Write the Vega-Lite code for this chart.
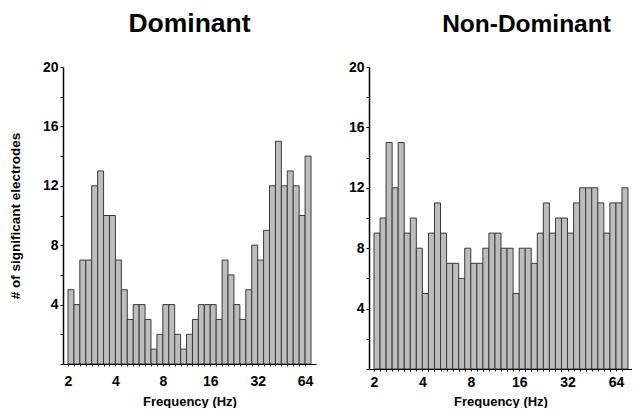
{
  "$schema": "https://vega.github.io/schema/vega-lite/v6.json",
  "padding": {"left": 8, "top": 10, "right": 0, "bottom": 0},
  "config": {
    "view": {"stroke": null},
    "font": "Liberation Sans",
    "concat": {"spacing": 32},
    "axis": {"labelFont": "Liberation Sans", "titleFont": "Liberation Sans", "labelFontWeight": "bold", "titleFontWeight": "bold", "labelColor": "#000", "titleColor": "#000", "domainColor": "#000", "tickColor": "#000", "grid": false}
  },
  "datasets": {
    "dom": [
      {"lo": 2.000, "hi": 2.181, "count": 5},
      {"lo": 2.181, "hi": 2.378, "count": 4},
      {"lo": 2.378, "hi": 2.594, "count": 7},
      {"lo": 2.594, "hi": 2.828, "count": 7},
      {"lo": 2.828, "hi": 3.084, "count": 12},
      {"lo": 3.084, "hi": 3.364, "count": 13},
      {"lo": 3.364, "hi": 3.668, "count": 10},
      {"lo": 3.668, "hi": 4.000, "count": 10},
      {"lo": 4.000, "hi": 4.362, "count": 7},
      {"lo": 4.362, "hi": 4.757, "count": 5},
      {"lo": 4.757, "hi": 5.187, "count": 3},
      {"lo": 5.187, "hi": 5.657, "count": 4},
      {"lo": 5.657, "hi": 6.169, "count": 4},
      {"lo": 6.169, "hi": 6.727, "count": 3},
      {"lo": 6.727, "hi": 7.336, "count": 1},
      {"lo": 7.336, "hi": 8.000, "count": 2},
      {"lo": 8.000, "hi": 8.724, "count": 4},
      {"lo": 8.724, "hi": 9.514, "count": 4},
      {"lo": 9.514, "hi": 10.375, "count": 2},
      {"lo": 10.375, "hi": 11.314, "count": 1},
      {"lo": 11.314, "hi": 12.338, "count": 2},
      {"lo": 12.338, "hi": 13.454, "count": 3},
      {"lo": 13.454, "hi": 14.672, "count": 4},
      {"lo": 14.672, "hi": 16.000, "count": 4},
      {"lo": 16.000, "hi": 17.448, "count": 4},
      {"lo": 17.448, "hi": 19.027, "count": 3},
      {"lo": 19.027, "hi": 20.749, "count": 7},
      {"lo": 20.749, "hi": 22.627, "count": 6},
      {"lo": 22.627, "hi": 24.675, "count": 4},
      {"lo": 24.675, "hi": 26.909, "count": 3},
      {"lo": 26.909, "hi": 29.344, "count": 5},
      {"lo": 29.344, "hi": 32.000, "count": 8},
      {"lo": 32.000, "hi": 34.896, "count": 7},
      {"lo": 34.896, "hi": 38.055, "count": 9},
      {"lo": 38.055, "hi": 41.499, "count": 12},
      {"lo": 41.499, "hi": 45.255, "count": 15},
      {"lo": 45.255, "hi": 49.351, "count": 12},
      {"lo": 49.351, "hi": 53.817, "count": 13},
      {"lo": 53.817, "hi": 58.688, "count": 12},
      {"lo": 58.688, "hi": 64.000, "count": 10},
      {"lo": 64.000, "hi": 69.793, "count": 14}
    ],
    "nondom": [
      {"lo": 2.000, "hi": 2.181, "count": 9},
      {"lo": 2.181, "hi": 2.378, "count": 10},
      {"lo": 2.378, "hi": 2.594, "count": 15},
      {"lo": 2.594, "hi": 2.828, "count": 12},
      {"lo": 2.828, "hi": 3.084, "count": 15},
      {"lo": 3.084, "hi": 3.364, "count": 9},
      {"lo": 3.364, "hi": 3.668, "count": 10},
      {"lo": 3.668, "hi": 4.000, "count": 8},
      {"lo": 4.000, "hi": 4.362, "count": 5},
      {"lo": 4.362, "hi": 4.757, "count": 9},
      {"lo": 4.757, "hi": 5.187, "count": 11},
      {"lo": 5.187, "hi": 5.657, "count": 9},
      {"lo": 5.657, "hi": 6.169, "count": 7},
      {"lo": 6.169, "hi": 6.727, "count": 7},
      {"lo": 6.727, "hi": 7.336, "count": 6},
      {"lo": 7.336, "hi": 8.000, "count": 8},
      {"lo": 8.000, "hi": 8.724, "count": 7},
      {"lo": 8.724, "hi": 9.514, "count": 7},
      {"lo": 9.514, "hi": 10.375, "count": 8},
      {"lo": 10.375, "hi": 11.314, "count": 9},
      {"lo": 11.314, "hi": 12.338, "count": 9},
      {"lo": 12.338, "hi": 13.454, "count": 8},
      {"lo": 13.454, "hi": 14.672, "count": 8},
      {"lo": 14.672, "hi": 16.000, "count": 5},
      {"lo": 16.000, "hi": 17.448, "count": 8},
      {"lo": 17.448, "hi": 19.027, "count": 8},
      {"lo": 19.027, "hi": 20.749, "count": 7},
      {"lo": 20.749, "hi": 22.627, "count": 9},
      {"lo": 22.627, "hi": 24.675, "count": 11},
      {"lo": 24.675, "hi": 26.909, "count": 9},
      {"lo": 26.909, "hi": 29.344, "count": 10},
      {"lo": 29.344, "hi": 32.000, "count": 10},
      {"lo": 32.000, "hi": 34.896, "count": 9},
      {"lo": 34.896, "hi": 38.055, "count": 11},
      {"lo": 38.055, "hi": 41.499, "count": 12},
      {"lo": 41.499, "hi": 45.255, "count": 12},
      {"lo": 45.255, "hi": 49.351, "count": 12},
      {"lo": 49.351, "hi": 53.817, "count": 11},
      {"lo": 53.817, "hi": 58.688, "count": 9},
      {"lo": 58.688, "hi": 64.000, "count": 11},
      {"lo": 64.000, "hi": 69.793, "count": 11},
      {"lo": 69.793, "hi": 76.109, "count": 12}
    ]
  },
  "hconcat": [
    {
      "data": {"name": "dom"},
      "width": 253,
      "height": 297,
      "title": {"text": "Dominant", "font": "Liberation Sans", "fontSize": 26.5, "fontWeight": "bold", "color": "#000", "offset": 23},
      "mark": {"type": "bar", "orient": "vertical", "fill": "#bdbdbd", "stroke": "#3a3a3a", "strokeWidth": 1, "clip": true},
      "encoding": {
        "x": {"field": "lo", "type": "quantitative", "scale": {"type": "log", "base": 2, "domain": [2, 69.793], "nice": false},
          "axis": {"values": [2, 2.181, 2.378, 2.594, 2.828, 3.084, 3.364, 3.668, 4, 4.362, 4.757, 5.187, 5.657, 6.169, 6.727, 7.336, 8, 8.724, 9.514, 10.375, 11.314, 12.338, 13.454, 14.672, 16, 17.448, 19.027, 20.749, 22.627, 24.675, 26.909, 29.344, 32, 34.896, 38.055, 41.499, 45.255, 49.351, 53.817, 58.688, 64],
            "labelExpr": "indexof([2,4,8,16,32,64], datum.value) >= 0 ? datum.value : ''",
            "labelFontSize": 14, "labelFlush": false, "labelPadding": 8, "tickSize": 2, "domainWidth": 1,
            "title": "Frequency (Hz)", "titleFontSize": 13, "titlePadding": 7}},
        "x2": {"field": "hi"},
        "y": {"field": "count", "type": "quantitative", "scale": {"domain": [0, 20], "nice": false},
          "axis": {"values": [0, 2, 4, 6, 8, 10, 12, 14, 16, 18, 20],
            "labelExpr": "datum.value % 4 === 0 && datum.value > 0 ? datum.label : ''",
            "labelFontSize": 14, "tickSize": 3, "domainWidth": 1.5, "labelPadding": 2,
            "title": "# of significant electrodes", "titleFontSize": 13.5, "titlePadding": 20}},
        "y2": {"datum": 0}
      }
    },
    {
      "data": {"name": "nondom"},
      "width": 263,
      "height": 302,
      "title": {"text": "Non-Dominant", "font": "Liberation Sans", "fontSize": 24.5, "fontWeight": "bold", "color": "#000", "offset": 23, "dx": 26},
      "mark": {"type": "bar", "orient": "vertical", "fill": "#bdbdbd", "stroke": "#3a3a3a", "strokeWidth": 1, "clip": true},
      "encoding": {
        "x": {"field": "lo", "type": "quantitative", "scale": {"type": "log", "base": 2, "domain": [2, 75], "nice": false},
          "axis": {"values": [2, 2.181, 2.378, 2.594, 2.828, 3.084, 3.364, 3.668, 4, 4.362, 4.757, 5.187, 5.657, 6.169, 6.727, 7.336, 8, 8.724, 9.514, 10.375, 11.314, 12.338, 13.454, 14.672, 16, 17.448, 19.027, 20.749, 22.627, 24.675, 26.909, 29.344, 32, 34.896, 38.055, 41.499, 45.255, 49.351, 53.817, 58.688, 64, 69.793],
            "labelExpr": "indexof([2,4,8,16,32,64], datum.value) >= 0 ? datum.value : ''",
            "labelFontSize": 14, "labelFlush": false, "labelPadding": 4, "tickSize": 2, "domainWidth": 1,
            "title": "Frequency (Hz)", "titleFontSize": 13, "titlePadding": 6}},
        "x2": {"field": "hi"},
        "y": {"field": "count", "type": "quantitative", "scale": {"domain": [0, 20], "nice": false},
          "axis": {"values": [0, 2, 4, 6, 8, 10, 12, 14, 16, 18, 20],
            "labelExpr": "datum.value % 4 === 0 && datum.value > 0 ? datum.label : ''",
            "labelFontSize": 14, "tickSize": 3, "domainWidth": 1.5, "labelPadding": 2,
            "title": null}},
        "y2": {"datum": 0}
      }
    }
  ]
}
